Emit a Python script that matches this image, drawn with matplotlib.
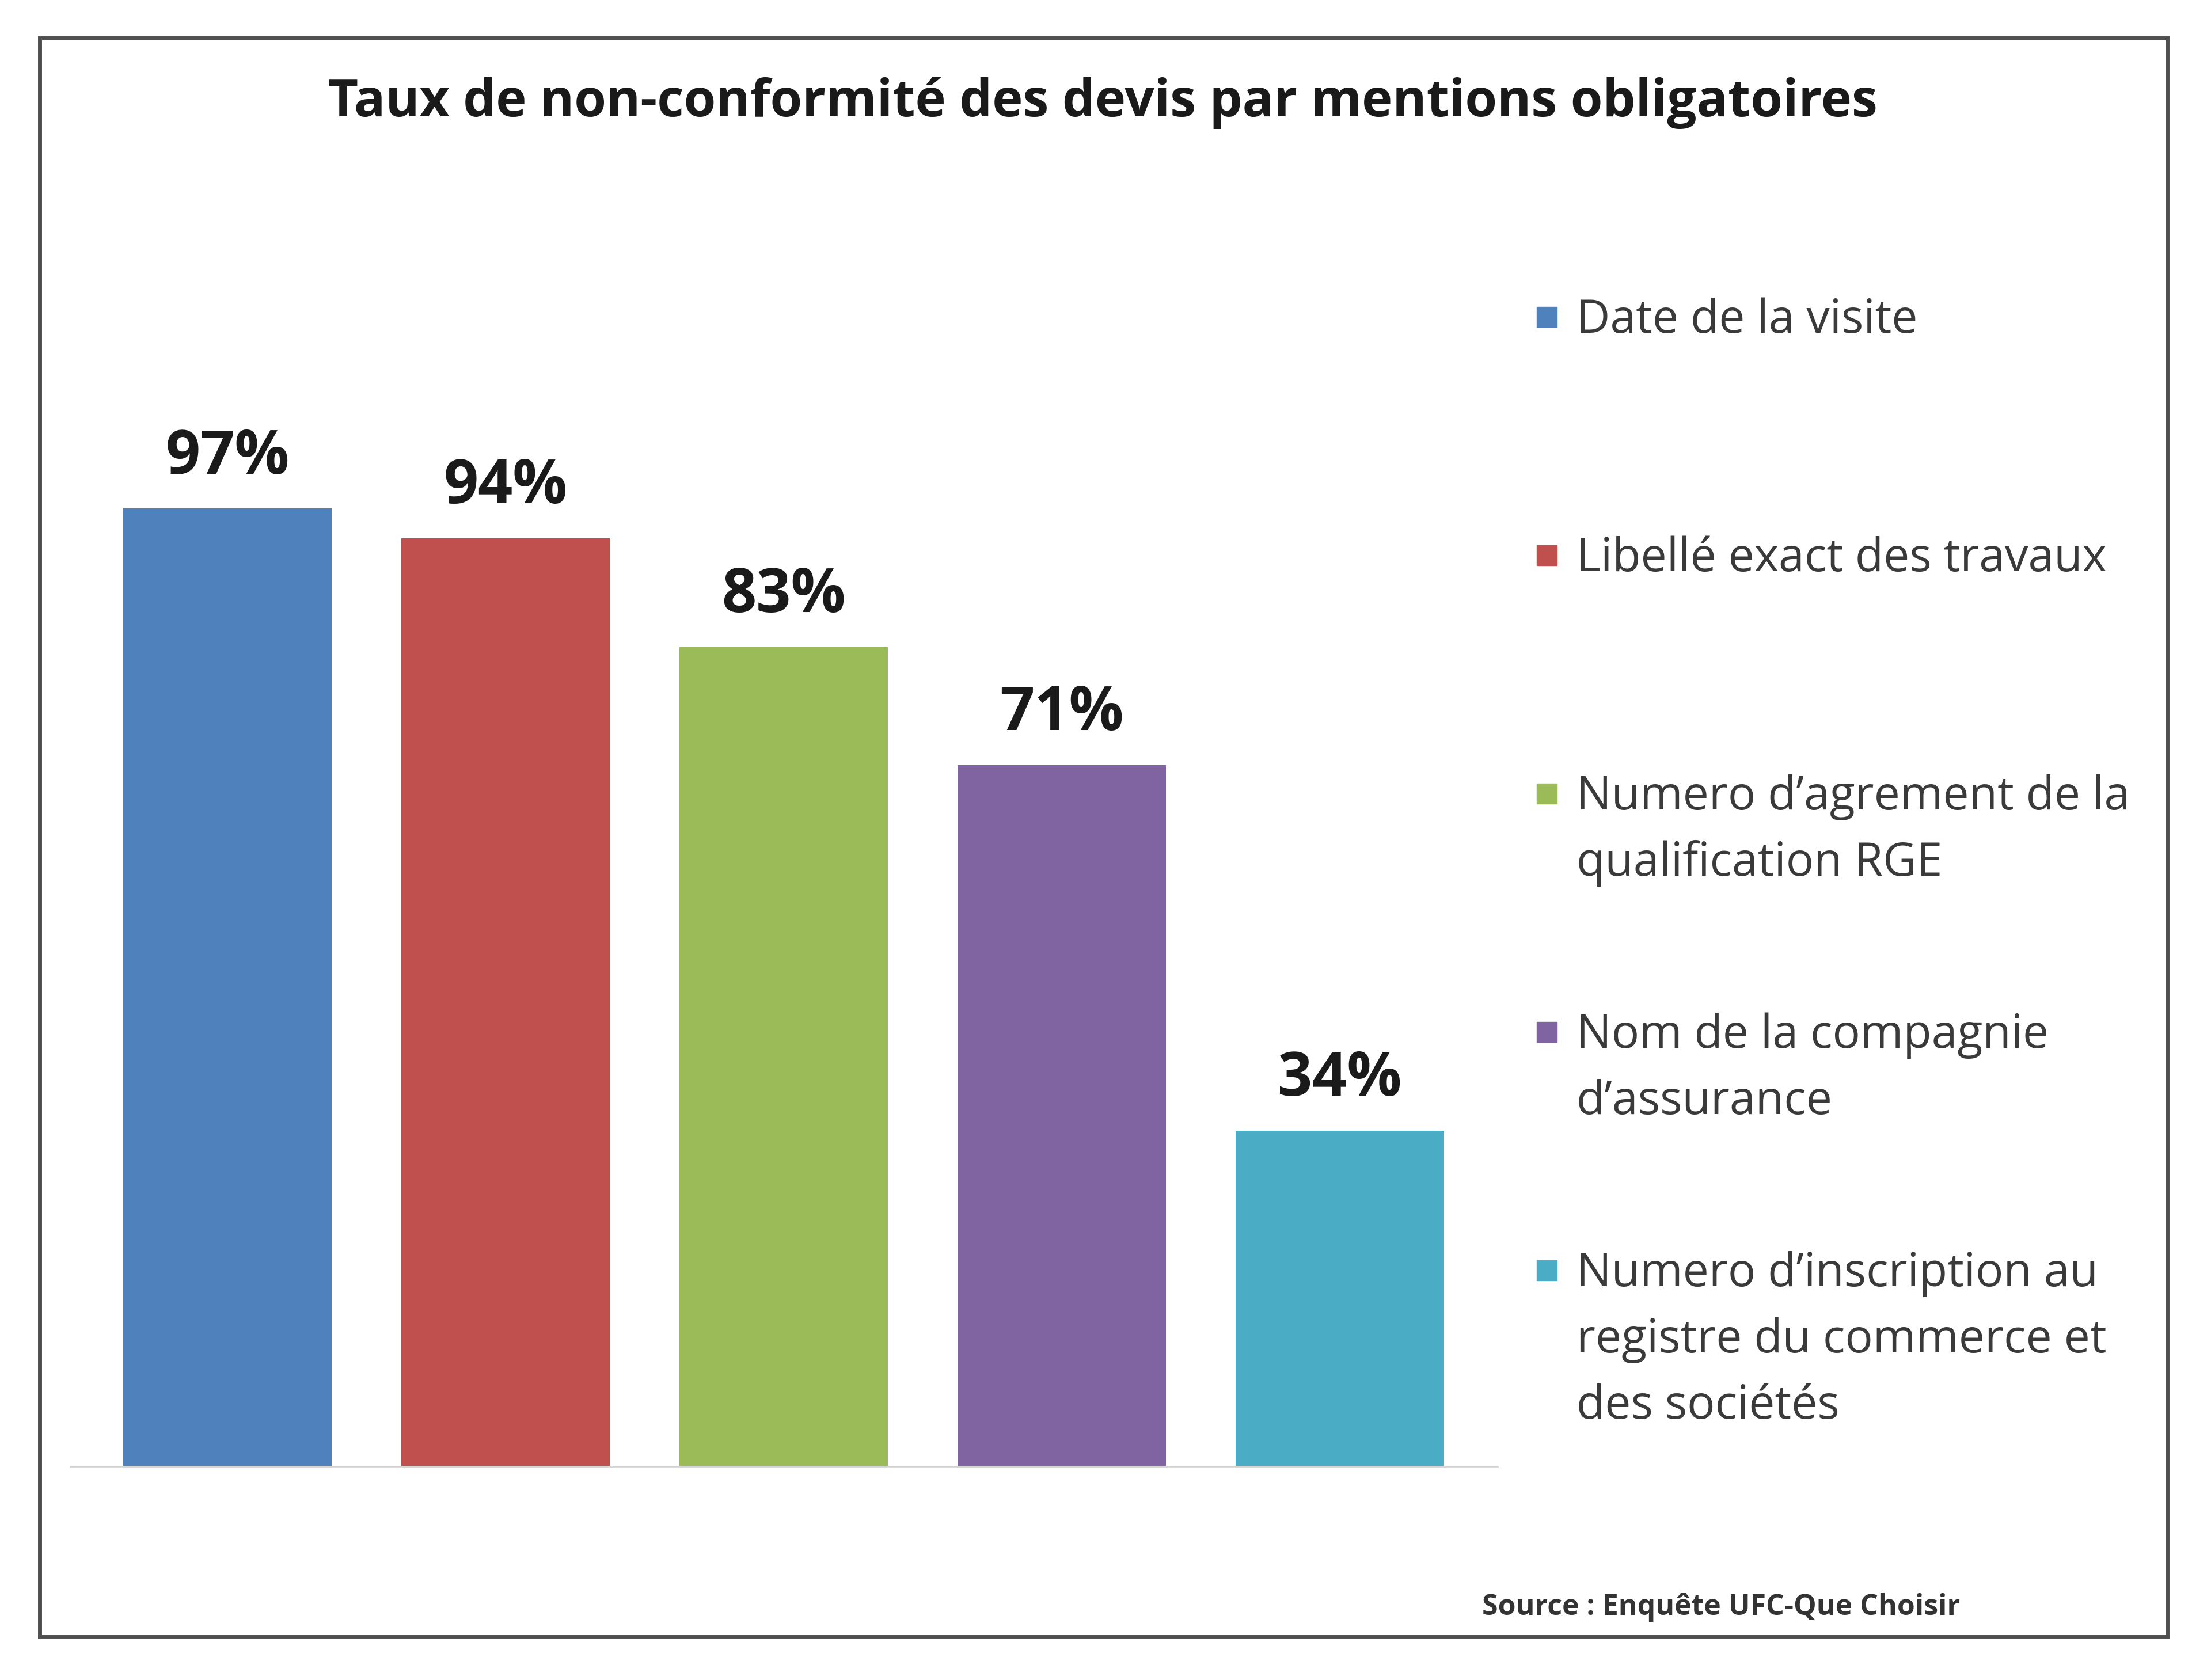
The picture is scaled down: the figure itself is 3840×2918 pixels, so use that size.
import matplotlib
matplotlib.use('Agg')
import matplotlib.pyplot as plt
from matplotlib.patches import Rectangle

# données
categories = ['Date de la visite',
              'Libellé exact des travaux',
              'Numero d’agrement de la\nqualification RGE',
              'Nom de la compagnie\nd’assurance',
              'Numero d’inscription au\nregistre du commerce et\ndes sociétés']
values = [97, 94, 83, 71, 34]
colors = ['#4F81BD', '#C0504D', '#9BBB59', '#8064A2', '#4BACC6']
title = 'Taux de non-conformité des devis par mentions obligatoires'
source = 'Source : Enquête UFC-Que Choisir'

plt.rcParams['font.family'] = ['Open Sans', 'DejaVu Sans']

W, H = 3840, 2918
fig = plt.figure(figsize=(W / 100, H / 100), dpi=100)

def fx(px):
    return px / W

def fy(py):
    return 1 - py / H

# cadre
fig.patches.append(Rectangle((fx(69), fy(2843)), fx(3764) - fx(69), fy(66) - fy(2843),
                             transform=fig.transFigure, fill=False,
                             edgecolor='#505050', linewidth=5))

ax = fig.add_axes([fx(122), fy(2547), fx(2601) - fx(122), fy(832) - fy(2547)])
x = list(range(len(values)))
bars = ax.bar(x, values, width=0.75, color=colors)
ax.set_xlim(-0.565, 4.567)
ax.set_ylim(0, 100)
for s in ['top', 'left', 'right']:
    ax.spines[s].set_visible(False)
ax.spines['bottom'].set_color('#d4d4d4')
ax.spines['bottom'].set_linewidth(2)
ax.set_xticks([])
ax.set_yticks([])

for b, v in zip(bars, values):
    ax.annotate(f'{v}%', (b.get_x() + b.get_width() / 2, v), xytext=(0, 64),
                textcoords='offset points', ha='center', va='center',
                fontsize=76, fontweight='bold', color='#1a1a1a')

fig.text(fx(1915), fy(178), title, ha='center', va='center',
         fontsize=65, fontweight='bold', color='#1a1a1a')

# légende
for i, (lab, c) in enumerate(zip(categories, colors)):
    base = 578 + i * 414
    fig.patches.append(Rectangle((fx(2669), fy(base - 10)), fx(35), fy(0) - fy(35),
                                 transform=fig.transFigure, color=c))
    for j, line in enumerate(lab.split('\n')):
        fig.text(fx(2738), fy(base + j * 115), line, ha='left', va='baseline',
                 fontsize=58, color='#3a3a3a')

fig.text(fx(3404), fy(2792), source, ha='right', va='center',
         fontsize=36, fontweight='bold', color='#333333')

fig.savefig('out.png', dpi=100)
